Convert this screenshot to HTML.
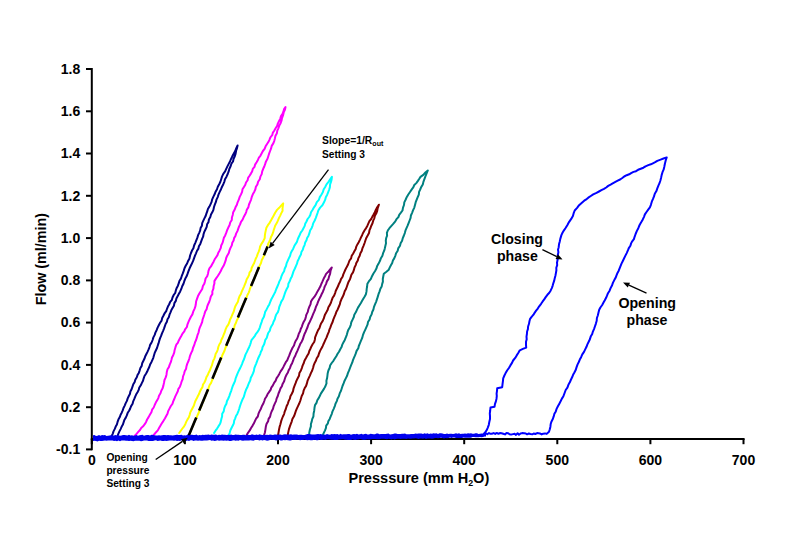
<!DOCTYPE html>
<html><head><meta charset="utf-8"><title>Flow vs Pressure</title>
<style>html,body{margin:0;padding:0;background:#fff}svg{display:block}</style></head>
<body>
<svg width="785" height="554" viewBox="0 0 785 554">
<rect width="785" height="554" fill="#fff"/>
<g stroke="#000" stroke-width="2" fill="none" stroke-linecap="butt">
<path d="M91.8,68 V450.3"/>
<path d="M86,69.0 H91.8"/>
<path d="M86,111.3 H91.8"/>
<path d="M86,153.5 H91.8"/>
<path d="M86,195.8 H91.8"/>
<path d="M86,238.1 H91.8"/>
<path d="M86,280.4 H91.8"/>
<path d="M86,322.6 H91.8"/>
<path d="M86,364.9 H91.8"/>
<path d="M86,407.2 H91.8"/>
<path d="M86,449.4 H91.8"/>
<path d="M90.8,439 H744.6"/>
<path d="M91.8,439 V444.2"/>
<path d="M184.9,439 V444.2"/>
<path d="M278.0,439 V444.2"/>
<path d="M371.1,439 V444.2"/>
<path d="M464.2,439 V444.2"/>
<path d="M557.3,439 V444.2"/>
<path d="M650.4,439 V444.2"/>
<path d="M743.5,439 V444.2"/>
</g>
<path d="M111.7,436.0 L112.8,433.6 L113.5,431.4 L114.8,428.9 L115.7,426.6 L116.9,424.4 L117.5,422.2 L118.4,419.6 L119.8,417.1 L120.6,414.7 L121.7,412.7 L122.7,410.4 L123.5,408.0 L124.7,405.6 L125.6,403.4 L126.9,400.9 L127.7,398.4 L128.7,396.3 L129.9,394.0 L130.4,391.5 L131.7,389.0 L132.5,386.7 L133.3,384.3 L134.7,382.0 L135.3,379.8 L136.8,377.3 L137.5,375.1 L138.8,372.9 L139.7,370.3 L140.4,368.0 L141.7,365.9 L142.2,363.3 L143.3,361.0 L144.4,358.8 L145.3,356.2 L146.4,354.0 L147.5,351.9 L148.6,349.4 L149.5,347.1 L150.1,344.9 L151.6,342.5 L152.6,340.0 L153.4,337.4 L154.7,334.9 L155.4,332.6 L156.6,330.2 L157.6,327.6 L158.8,325.2 L160.1,322.8 L161.6,320.6 L162.2,318.0 L163.4,315.8 L164.4,313.7 L166.2,311.2 L167.0,308.8 L167.9,306.6 L169.1,304.5 L170.2,301.9 L171.9,299.8 L172.5,297.5 L173.6,295.2 L175.2,293.0 L175.9,290.3 L176.7,287.9 L177.9,285.7 L178.8,283.2 L179.4,281.0 L180.9,278.6 L181.7,276.2 L182.8,273.4 L183.7,270.9 L184.5,268.2 L185.7,265.8 L187.1,263.5 L188.1,260.9 L189.5,258.4 L190.1,255.5 L191.0,253.0 L192.0,250.6 L193.4,248.2 L194.1,245.5 L195.3,242.8 L196.2,240.6 L197.3,237.9 L198.1,235.2 L199.2,232.8 L200.1,230.7 L200.6,228.1 L201.9,225.8 L202.2,223.1 L203.1,221.1 L204.4,218.4 L205.5,216.3 L206.4,213.7 L207.3,211.2 L207.9,209.1 L209.4,206.6 L210.6,204.1 L211.6,201.9 L212.2,199.3 L213.3,196.9 L214.6,194.3 L215.6,191.7 L217.0,189.3 L217.8,186.8 L219.2,184.2 L220.4,181.7 L221.2,179.2 L222.0,176.6 L223.3,173.8 L225.1,171.4 L226.1,169.1 L227.4,166.4 L228.7,163.9 L230.1,161.2 L231.2,158.7 L232.3,156.3 L233.8,153.5 L235.2,151.0 L236.3,148.2 L237.6,145.5 L237.0,148.1 L236.1,150.8 L235.6,153.6 L234.8,156.3 L233.6,158.8 L233.0,161.5 L231.4,163.7 L230.6,166.3 L229.4,168.8 L228.6,171.7 L227.7,174.0 L226.5,176.7 L225.0,179.3 L224.4,181.6 L223.3,184.2 L221.9,187.0 L221.0,189.2 L219.7,191.9 L218.6,194.3 L217.7,197.1 L216.5,199.6 L215.9,201.9 L214.8,204.7 L214.0,207.0 L213.4,209.9 L212.4,212.1 L211.0,214.5 L210.3,217.1 L208.9,219.5 L208.5,222.1 L207.1,224.3 L206.7,226.9 L205.6,229.2 L204.3,231.9 L203.6,234.0 L203.1,236.7 L202.1,238.9 L201.2,241.3 L200.3,243.9 L198.9,246.3 L198.4,248.6 L196.9,251.0 L196.0,253.3 L195.0,255.6 L194.1,258.1 L193.1,260.9 L192.0,263.3 L190.8,265.8 L189.6,268.3 L188.5,271.1 L187.7,273.4 L186.6,276.3 L185.2,278.8 L184.3,281.2 L183.5,283.7 L182.2,286.3 L181.4,288.7 L180.2,291.4 L178.9,293.8 L177.6,296.2 L176.4,298.5 L175.8,300.9 L174.4,303.1 L173.9,305.8 L172.7,307.8 L171.4,310.1 L170.5,312.4 L169.5,314.7 L168.8,317.3 L167.5,319.3 L166.9,321.7 L165.6,324.0 L164.7,326.6 L163.9,328.8 L163.0,331.1 L161.9,333.6 L161.1,335.9 L160.0,338.4 L159.2,340.9 L158.5,343.4 L157.7,345.8 L157.0,348.0 L155.7,350.7 L154.7,352.9 L154.1,355.0 L153.3,357.8 L152.3,360.1 L151.4,362.2 L150.1,364.6 L149.3,367.0 L148.2,369.2 L147.2,371.6 L146.0,373.7 L144.5,376.0 L143.7,378.3 L143.0,380.8 L141.8,383.1 L140.8,385.3 L139.2,387.8 L138.7,389.9 L137.5,392.3 L136.1,394.6 L135.2,396.7 L134.2,399.2 L133.1,401.6 L132.6,403.8 L131.1,406.1 L130.2,408.5 L129.1,410.7 L127.7,412.8 L126.8,415.4 L125.8,417.6 L124.5,419.7 L123.6,422.3 L122.9,424.6 L121.6,426.8 L120.6,429.1 L119.3,431.6 L118.3,433.9 L117.5,436.0" fill="none" stroke="#000080" stroke-width="2" stroke-linejoin="round" stroke-linecap="round"/>
<path d="M134.6,436.0 L136.6,433.8 L138.0,432.2 L140.0,430.0 L141.2,427.9 L143.4,426.0 L144.9,423.9 L146.1,421.9 L147.1,419.5 L148.6,417.1 L150.0,414.5 L151.4,412.2 L152.1,409.7 L153.7,407.5 L154.7,405.0 L155.8,402.6 L157.3,400.1 L158.3,398.1 L159.0,395.7 L160.5,393.3 L161.3,390.7 L162.5,388.6 L163.4,385.6 L164.0,382.8 L164.5,380.0 L165.7,377.4 L166.5,374.7 L166.8,372.0 L167.5,369.2 L168.9,367.1 L169.7,364.6 L170.7,362.4 L171.4,359.9 L172.0,357.5 L173.2,355.2 L174.2,352.6 L174.6,350.2 L175.4,347.4 L176.3,344.7 L177.8,342.8 L178.8,340.4 L180.1,338.1 L181.4,335.8 L182.5,333.6 L184.3,331.4 L185.1,329.4 L186.9,327.0 L187.5,324.3 L188.5,321.8 L189.7,319.2 L190.9,316.8 L192.4,314.4 L193.2,311.7 L194.4,309.1 L195.4,306.4 L195.8,304.3 L196.1,301.5 L196.9,299.2 L197.9,296.3 L199.2,293.8 L200.6,291.5 L202.2,288.9 L202.9,286.0 L204.3,283.8 L205.0,281.2 L205.6,278.5 L207.2,276.2 L208.0,273.7 L208.5,270.8 L209.4,268.4 L211.0,266.4 L212.3,264.0 L213.6,261.7 L214.7,259.3 L216.1,257.2 L217.5,255.1 L218.3,252.7 L219.5,250.7 L220.8,247.9 L221.2,245.5 L222.5,242.9 L223.2,240.4 L223.9,237.7 L225.2,235.4 L226.2,232.9 L227.2,230.0 L228.2,227.8 L229.6,225.0 L230.2,222.5 L231.8,220.0 L231.9,217.5 L232.8,214.7 L233.2,212.2 L234.6,209.8 L235.5,207.3 L236.9,204.7 L237.6,202.3 L238.8,199.7 L239.7,196.9 L241.0,194.4 L242.1,191.9 L242.5,189.3 L243.8,187.2 L245.3,184.7 L246.0,182.5 L247.6,180.2 L248.1,177.9 L249.4,176.0 L250.9,173.6 L252.1,171.4 L252.8,168.9 L254.5,166.9 L255.1,164.6 L256.6,162.2 L257.9,159.9 L258.9,157.7 L260.4,155.8 L261.6,153.5 L262.9,151.0 L264.6,148.9 L265.6,146.3 L266.9,144.2 L268.5,141.8 L269.4,139.8 L270.4,137.3 L272.2,135.2 L272.9,132.6 L274.2,130.7 L275.6,128.3 L277.2,125.8 L277.8,123.6 L279.1,121.0 L280.3,118.6 L281.0,116.1 L282.4,114.1 L283.4,111.7 L284.1,109.1 L285.5,107.0 L285.0,109.6 L283.7,112.4 L283.0,115.4 L282.0,118.1 L281.5,120.7 L280.6,123.2 L279.3,125.6 L278.4,128.3 L277.3,130.7 L276.9,133.2 L275.5,135.7 L274.9,138.4 L274.2,141.1 L273.3,143.4 L271.7,145.9 L271.0,148.7 L270.1,151.0 L269.1,153.7 L268.3,156.3 L267.5,158.8 L266.0,161.4 L265.2,163.9 L264.3,166.5 L263.2,168.8 L262.2,171.4 L261.7,174.1 L260.4,176.6 L259.8,179.2 L258.1,181.8 L257.4,184.5 L255.9,186.8 L255.3,189.5 L254.3,191.7 L252.8,194.3 L251.7,197.2 L251.0,199.8 L249.9,202.3 L249.0,204.5 L248.3,207.4 L246.8,209.8 L246.2,212.1 L245.1,214.6 L243.7,217.1 L242.6,219.7 L241.0,221.8 L240.1,224.4 L239.0,226.6 L238.1,229.1 L237.4,231.1 L236.1,233.6 L235.4,236.0 L234.1,238.1 L233.6,240.5 L232.3,242.8 L231.8,245.4 L230.5,247.9 L229.4,250.7 L228.8,253.0 L227.2,255.7 L226.2,258.0 L225.6,260.7 L224.6,263.3 L223.6,265.8 L222.1,268.2 L220.8,271.0 L219.5,273.3 L217.8,276.0 L216.1,278.4 L214.4,281.1 L214.4,283.5 L213.6,286.3 L213.4,288.7 L212.3,291.5 L212.4,293.9 L210.8,296.6 L210.1,299.2 L209.3,301.7 L208.1,304.2 L207.2,306.6 L206.6,309.3 L205.2,311.6 L204.4,314.3 L203.6,316.7 L202.6,319.5 L202.2,321.8 L201.1,324.7 L199.9,327.3 L199.1,329.8 L198.6,332.3 L197.6,334.8 L196.9,337.4 L196.1,340.0 L195.0,342.4 L194.2,345.2 L193.0,348.0 L192.4,350.5 L191.1,353.1 L190.1,355.6 L189.4,358.2 L188.5,361.0 L187.3,363.6 L186.5,366.2 L186.1,368.7 L184.7,371.2 L184.0,374.0 L183.0,376.5 L182.7,379.0 L181.7,381.3 L180.9,384.0 L179.9,386.7 L178.3,389.1 L177.8,391.3 L176.4,394.1 L175.2,396.6 L174.3,399.0 L173.2,401.4 L172.5,403.7 L170.7,406.3 L169.5,408.6 L168.2,411.1 L167.5,413.8 L166.2,416.1 L164.9,418.5 L163.3,421.1 L161.7,423.5 L160.4,425.7 L159.2,427.8 L157.8,430.4 L155.1,433.3 L152.8,436.0" fill="none" stroke="#ff00ff" stroke-width="2" stroke-linejoin="round" stroke-linecap="round"/>
<path d="M179.2,433.0 L180.6,431.0 L182.4,428.5 L184.1,426.3 L185.3,424.2 L186.2,421.9 L187.4,419.6 L188.9,417.2 L189.7,414.8 L190.3,412.4 L191.4,410.3 L192.6,408.0 L193.9,405.5 L194.5,403.5 L195.4,400.9 L196.7,398.6 L197.8,396.3 L199.0,394.1 L199.8,391.8 L201.1,389.2 L202.5,386.9 L203.0,384.5 L204.4,382.5 L205.6,379.9 L206.3,377.4 L207.6,375.3 L208.5,373.0 L209.7,370.8 L210.7,368.1 L211.8,365.7 L212.4,363.5 L213.1,361.0 L214.3,358.6 L215.0,356.7 L215.6,354.0 L216.9,351.8 L217.8,349.5 L218.3,347.0 L219.3,344.5 L220.6,342.5 L221.4,339.8 L222.6,337.5 L223.6,334.8 L224.8,332.0 L225.6,329.4 L226.7,326.9 L228.3,324.6 L229.4,322.0 L230.1,319.4 L231.4,317.0 L232.5,314.2 L233.6,311.9 L234.3,309.4 L235.2,306.5 L236.4,304.2 L237.9,301.7 L238.5,299.2 L239.5,296.3 L240.9,294.0 L241.8,291.4 L243.0,288.8 L244.0,286.6 L245.0,284.2 L245.9,282.0 L246.6,279.5 L247.9,277.2 L249.1,274.9 L249.5,272.6 L251.2,270.4 L251.6,268.0 L252.6,266.0 L253.9,263.6 L254.9,261.0 L255.7,258.8 L256.8,256.6 L257.7,253.9 L258.6,251.9 L259.6,249.2 L260.0,246.8 L261.3,244.1 L263.3,241.1 L264.7,238.1 L264.9,235.3 L265.2,233.1 L265.8,230.4 L266.4,227.8 L267.9,225.2 L269.8,222.6 L271.1,220.2 L272.6,217.6 L274.1,214.8 L275.3,212.5 L277.0,209.9 L279.2,207.8 L281.1,205.7 L283.2,203.4 L282.9,205.7 L282.5,208.5 L282.6,210.8 L281.2,213.4 L280.2,215.6 L278.9,218.1 L278.0,220.4 L276.9,222.8 L275.3,225.4 L274.6,227.5 L273.8,229.8 L273.1,232.4 L272.2,234.8 L271.0,237.0 L270.2,239.6 L269.1,242.0 L268.1,244.0 L267.4,246.7 L266.6,248.8 L265.9,251.0 L264.7,253.5 L263.9,255.9 L262.9,258.0 L261.7,260.2 L261.1,262.8 L260.1,264.9 L258.9,267.4 L258.0,269.5 L257.0,272.1 L255.9,274.1 L254.9,276.7 L254.4,278.7 L252.9,281.1 L252.1,283.5 L251.0,285.8 L250.1,288.3 L249.5,290.3 L248.7,292.6 L247.3,295.3 L246.6,297.5 L245.4,299.6 L244.6,301.9 L243.3,304.3 L242.2,306.6 L241.8,309.0 L240.6,311.3 L239.7,313.4 L238.8,315.9 L237.9,318.4 L236.7,320.6 L236.0,322.8 L234.7,325.2 L234.2,327.6 L233.1,329.9 L232.1,332.1 L231.0,334.3 L230.1,336.5 L229.0,339.1 L228.3,341.4 L227.0,343.6 L226.2,346.0 L225.2,348.4 L224.6,350.5 L223.4,353.0 L222.3,355.2 L221.7,357.3 L220.5,359.7 L219.7,362.3 L218.5,364.3 L217.6,366.8 L216.7,369.1 L215.7,371.6 L214.7,373.7 L214.0,375.9 L212.9,378.3 L212.0,380.5 L211.1,382.9 L209.5,385.2 L208.8,387.4 L207.9,389.9 L207.1,392.2 L205.8,394.4 L205.2,397.0 L204.1,399.1 L203.3,401.4 L201.9,403.6 L201.4,406.2 L200.3,408.4 L199.3,410.6 L198.6,413.0 L197.4,415.5 L196.6,417.7 L195.3,420.0 L194.2,422.4 L193.4,424.8 L192.4,426.9 L191.4,429.2 L190.4,431.4 L189.8,433.8 L188.5,436.1 L187.7,438.5" fill="none" stroke="#ffff00" stroke-width="2" stroke-linejoin="round" stroke-linecap="round"/>
<path d="M214.1,433.0 L215.5,430.7 L217.1,428.6 L218.4,426.4 L220.1,423.8 L220.8,421.6 L221.4,418.8 L222.1,416.5 L222.2,413.7 L223.7,411.4 L224.2,408.6 L225.0,406.2 L226.4,403.7 L226.9,401.3 L228.3,398.5 L229.3,396.1 L230.1,393.6 L231.1,391.1 L232.0,388.3 L232.8,385.9 L233.9,383.5 L235.0,381.1 L235.6,378.5 L236.5,376.2 L237.4,373.8 L238.5,371.4 L239.7,369.0 L241.0,366.4 L242.0,364.1 L242.8,361.8 L244.0,359.3 L244.7,357.1 L245.5,354.6 L246.9,351.9 L247.9,349.7 L249.1,347.2 L250.1,344.8 L250.8,342.6 L251.5,340.1 L253.3,337.9 L254.9,335.8 L256.0,333.8 L257.7,331.6 L258.9,329.7 L259.9,327.3 L260.6,324.8 L261.6,322.1 L262.4,319.5 L263.8,317.1 L264.6,314.4 L265.2,311.8 L266.6,309.4 L268.0,306.6 L269.3,304.4 L270.4,301.5 L271.5,298.9 L272.7,296.8 L274.1,294.1 L275.3,291.7 L276.3,289.0 L277.4,286.5 L278.5,283.9 L279.4,281.4 L280.7,278.9 L281.5,276.1 L282.5,273.8 L284.1,271.2 L284.7,268.7 L286.0,266.0 L286.6,263.4 L287.7,260.9 L288.8,258.4 L290.1,255.7 L290.8,253.1 L291.7,251.2 L293.1,248.9 L294.2,246.3 L295.3,244.3 L296.8,242.2 L297.6,239.7 L298.5,237.5 L299.7,235.0 L300.7,232.7 L302.3,230.5 L303.6,228.1 L304.7,225.9 L305.2,223.8 L306.5,221.5 L307.6,219.0 L309.2,217.0 L310.4,214.7 L311.0,212.3 L312.5,210.0 L314.0,207.3 L315.7,204.9 L316.8,202.1 L318.9,199.8 L319.8,197.1 L321.5,194.5 L322.9,192.1 L323.6,189.5 L325.2,187.0 L326.5,184.4 L328.5,181.9 L330.2,179.4 L331.9,176.8 L331.6,179.5 L331.0,181.9 L330.1,184.3 L329.9,187.1 L329.2,189.5 L328.1,192.3 L327.2,194.7 L325.8,197.2 L325.2,199.7 L324.0,202.3 L322.4,205.2 L320.1,207.6 L318.3,210.5 L317.5,213.1 L316.7,215.3 L315.7,218.1 L314.7,220.5 L313.3,223.1 L312.6,225.6 L311.7,227.9 L310.1,230.5 L309.5,232.9 L308.5,235.7 L307.1,238.0 L306.5,240.3 L305.2,242.6 L304.6,245.1 L303.5,247.2 L302.8,249.8 L301.4,252.1 L300.9,254.6 L299.7,256.7 L298.8,258.9 L297.6,261.3 L297.0,263.7 L295.9,266.1 L294.9,268.5 L293.5,271.4 L292.8,273.6 L291.9,276.4 L290.6,278.8 L289.7,281.3 L288.4,283.7 L288.1,286.6 L286.7,289.0 L285.5,291.6 L284.6,294.2 L283.8,296.7 L283.0,299.0 L281.3,301.6 L280.4,304.1 L279.3,306.8 L278.8,309.3 L277.9,312.1 L276.2,314.5 L275.4,316.8 L274.8,319.2 L273.5,321.7 L272.8,324.0 L271.4,326.2 L270.3,328.7 L269.8,330.7 L268.2,333.0 L267.4,335.6 L266.8,337.8 L265.2,340.1 L264.7,342.4 L264.0,344.6 L262.5,347.2 L262.1,349.6 L260.8,351.9 L260.2,354.1 L259.0,356.5 L257.9,359.0 L257.0,361.3 L256.1,363.8 L255.1,366.2 L254.3,368.3 L253.9,370.8 L253.0,373.4 L252.0,375.5 L250.8,377.8 L250.2,380.5 L249.1,382.7 L248.0,385.3 L247.2,387.6 L246.0,389.8 L245.1,392.3 L244.5,394.5 L243.8,396.9 L242.6,399.2 L241.5,401.9 L240.7,404.0 L239.9,406.4 L239.2,408.7 L238.4,411.1 L237.4,413.7 L236.0,416.0 L235.2,418.3 L234.2,420.7 L233.8,423.3 L232.9,425.3 L231.5,428.0 L230.4,430.3 L229.7,432.8 L228.9,435.0" fill="none" stroke="#00ffff" stroke-width="2" stroke-linejoin="round" stroke-linecap="round"/>
<path d="M246.7,435.0 L248.0,432.8 L249.9,430.2 L250.9,428.2 L252.6,425.6 L253.8,423.6 L254.9,421.1 L256.1,418.6 L257.8,416.5 L258.5,413.7 L259.5,411.4 L260.9,408.7 L261.8,406.3 L263.2,403.8 L264.3,401.0 L265.0,398.7 L266.5,396.5 L267.5,394.3 L269.0,392.1 L270.7,389.7 L271.3,387.6 L272.9,385.4 L274.1,382.9 L275.7,380.7 L276.5,378.4 L278.1,376.0 L279.3,373.9 L280.6,371.4 L282.0,369.4 L283.4,366.9 L284.5,364.7 L285.8,362.2 L287.2,360.3 L288.2,357.8 L289.3,355.4 L290.1,353.2 L291.3,350.4 L292.4,348.0 L294.0,345.5 L294.6,343.4 L295.8,340.7 L297.2,338.5 L298.1,336.2 L298.7,333.9 L300.1,331.2 L300.7,329.0 L301.9,326.6 L302.6,324.3 L303.6,322.0 L305.1,319.5 L305.8,317.1 L306.4,314.6 L307.8,311.9 L308.3,309.5 L309.3,306.8 L310.5,304.4 L311.0,301.6 L312.5,299.1 L314.5,296.7 L316.0,294.2 L317.5,291.4 L318.8,289.2 L320.4,286.3 L321.3,284.0 L322.5,281.4 L323.6,278.8 L325.1,276.0 L326.1,273.9 L328.3,271.8 L329.9,269.6 L331.8,267.5 L330.6,270.6 L330.1,273.8 L329.1,276.3 L328.5,278.9 L326.9,281.4 L326.0,284.1 L324.8,286.4 L324.0,288.8 L322.9,291.7 L321.7,294.0 L320.6,296.6 L319.3,299.0 L318.1,301.6 L317.2,304.2 L316.0,306.6 L315.1,309.5 L314.1,311.9 L313.0,314.3 L312.0,317.0 L310.8,319.6 L309.7,322.0 L308.4,324.5 L307.6,327.0 L306.7,329.2 L305.5,332.0 L304.4,334.3 L303.6,336.6 L302.9,339.0 L301.8,341.4 L300.2,344.1 L299.4,346.1 L298.3,348.7 L297.4,350.9 L296.0,353.7 L295.3,355.8 L293.9,358.2 L293.1,360.7 L292.1,363.2 L290.8,365.6 L290.0,367.9 L288.7,370.2 L287.9,372.5 L286.5,374.8 L285.4,377.1 L284.7,379.2 L284.0,381.6 L282.6,383.9 L281.9,386.2 L280.5,388.4 L279.6,391.0 L278.5,393.5 L277.8,396.0 L276.6,398.7 L276.0,401.1 L274.8,403.6 L273.7,406.1 L273.0,408.8 L271.6,411.5 L270.7,414.0 L270.1,416.6 L268.6,418.9 L268.1,421.3 L266.5,424.1 L265.8,426.8 L265.4,429.6 L264.9,432.5 L264.0,435.5" fill="none" stroke="#800080" stroke-width="2" stroke-linejoin="round" stroke-linecap="round"/>
<path d="M278.0,435.5 L278.5,432.7 L279.0,429.7 L279.6,426.9 L280.4,424.2 L281.1,421.4 L281.9,419.0 L282.9,416.5 L284.1,414.1 L284.8,411.3 L285.8,409.0 L286.6,406.3 L287.9,403.6 L288.5,401.4 L289.9,398.6 L290.4,396.2 L291.8,393.7 L293.0,391.2 L293.6,388.3 L294.5,385.9 L295.6,383.2 L296.4,380.9 L297.7,378.2 L299.0,375.8 L299.4,373.1 L300.9,370.5 L301.9,367.8 L302.6,365.6 L303.8,363.0 L304.6,360.4 L306.0,358.0 L307.2,355.8 L308.6,353.5 L309.3,351.0 L310.3,349.0 L311.4,346.4 L312.6,344.3 L314.2,342.0 L314.9,339.4 L315.1,337.3 L316.1,334.9 L317.1,332.4 L318.1,330.1 L319.5,328.0 L320.2,325.6 L321.2,323.2 L322.6,321.1 L323.7,318.7 L324.4,316.4 L325.1,314.4 L326.6,311.8 L327.7,309.7 L328.4,307.3 L329.9,304.9 L331.0,302.5 L331.7,300.3 L332.6,297.8 L334.1,295.6 L335.1,293.1 L335.8,290.8 L336.8,288.8 L338.0,286.3 L338.9,283.9 L340.2,281.5 L341.0,279.1 L342.6,276.8 L343.3,274.4 L344.3,272.1 L345.2,270.0 L346.5,267.4 L347.8,265.1 L348.6,263.0 L349.5,260.5 L351.1,258.4 L351.7,255.8 L353.2,253.5 L354.5,251.1 L355.7,248.9 L356.3,246.6 L357.4,244.4 L358.7,242.2 L360.0,239.6 L361.0,237.4 L362.1,235.2 L363.2,232.7 L364.6,230.3 L366.1,228.1 L367.3,225.9 L368.3,223.6 L369.4,221.2 L371.2,219.0 L372.4,216.6 L373.6,214.5 L374.8,212.2 L375.8,209.9 L377.2,207.2 L378.9,204.7 L377.7,208.1 L377.1,211.2 L376.3,213.3 L374.9,215.7 L374.3,218.3 L373.2,220.7 L372.5,223.2 L371.3,225.7 L370.5,228.0 L369.5,230.2 L369.0,233.0 L367.8,235.3 L366.3,237.9 L365.4,240.5 L364.6,243.0 L363.5,245.8 L362.4,248.4 L361.7,250.9 L360.4,253.3 L359.7,255.8 L358.3,258.4 L357.8,260.5 L356.3,263.1 L355.7,265.1 L354.5,267.5 L353.9,269.9 L353.0,272.4 L351.4,274.8 L350.7,277.1 L350.0,279.3 L348.5,281.9 L347.7,284.2 L346.9,286.5 L346.0,289.0 L344.7,291.3 L343.9,294.0 L342.7,296.8 L341.4,299.3 L340.4,301.8 L339.9,304.1 L338.7,307.0 L337.7,309.4 L336.4,311.7 L335.5,314.4 L334.4,316.9 L333.3,319.6 L332.6,322.0 L331.3,324.7 L330.4,327.4 L329.4,329.7 L328.7,332.1 L327.5,334.8 L326.6,337.4 L325.5,339.6 L324.4,342.1 L323.3,344.5 L322.5,346.5 L321.1,348.9 L320.0,351.1 L319.0,353.5 L318.3,355.9 L316.8,358.2 L316.0,360.5 L314.8,362.7 L313.6,365.7 L313.1,367.8 L312.1,370.8 L311.0,372.9 L309.9,375.6 L308.7,378.2 L307.5,380.9 L306.9,383.4 L306.1,385.9 L304.6,388.3 L303.6,390.7 L303.0,393.6 L301.7,395.9 L300.9,398.7 L300.2,401.0 L299.1,403.8 L298.0,406.1 L296.7,408.9 L295.8,411.2 L294.9,413.8 L294.0,416.3 L292.4,419.0 L291.7,421.6 L290.7,424.2 L289.8,426.6 L288.9,429.4 L288.2,432.6 L287.7,435.5" fill="none" stroke="#800000" stroke-width="2" stroke-linejoin="round" stroke-linecap="round"/>
<path d="M309.1,435.5 L309.3,432.6 L309.9,429.5 L310.9,426.4 L310.9,424.0 L311.7,421.6 L312.2,419.1 L313.4,416.5 L313.6,413.5 L314.2,410.7 L314.5,407.8 L315.0,405.1 L316.5,402.9 L317.3,400.3 L318.7,398.1 L319.9,395.7 L321.0,393.4 L322.5,391.1 L324.1,388.6 L325.5,386.0 L326.5,383.4 L326.4,380.8 L327.1,378.1 L327.4,375.8 L327.7,373.2 L328.4,370.5 L329.7,367.8 L330.1,365.6 L331.7,363.0 L333.4,360.8 L334.8,358.5 L336.3,356.2 L337.6,353.7 L339.0,351.7 L340.4,349.0 L341.7,346.8 L342.3,344.6 L343.5,342.3 L344.8,339.9 L345.9,337.2 L346.8,334.8 L347.5,332.2 L348.4,329.7 L349.9,327.2 L350.8,324.8 L351.3,322.3 L352.7,319.4 L353.8,317.0 L354.3,314.7 L355.8,312.3 L356.8,310.1 L358.0,307.6 L359.5,305.2 L360.9,303.0 L362.0,301.0 L363.3,298.8 L364.7,296.5 L365.9,294.3 L366.5,291.4 L366.7,288.9 L367.1,286.5 L367.4,283.7 L368.8,281.4 L370.9,278.9 L372.0,276.2 L373.3,273.7 L375.1,271.0 L376.4,268.6 L377.2,265.9 L378.6,263.6 L380.0,260.8 L380.9,258.2 L382.4,255.7 L383.1,253.2 L384.2,250.7 L384.8,248.4 L385.4,245.7 L386.0,243.3 L385.8,240.5 L386.2,238.0 L387.1,235.6 L386.9,232.8 L387.8,230.5 L389.4,228.2 L391.2,226.1 L393.2,223.9 L395.3,221.3 L396.5,219.2 L398.4,217.1 L399.2,214.8 L400.9,212.7 L402.5,210.5 L403.0,207.6 L404.0,205.0 L404.3,202.4 L405.7,199.5 L406.7,197.2 L408.3,194.5 L410.0,192.0 L411.6,189.6 L413.4,187.2 L414.3,185.0 L416.3,183.1 L417.9,180.9 L419.3,178.8 L420.5,176.9 L423.3,174.9 L425.4,172.5 L427.8,170.5 L426.6,173.5 L425.4,176.4 L424.4,179.2 L423.4,181.9 L422.8,184.5 L421.3,186.9 L420.2,189.5 L419.1,191.9 L418.8,194.6 L417.7,197.2 L416.7,199.6 L415.7,202.2 L415.0,204.9 L414.3,207.6 L413.0,210.4 L412.1,212.8 L410.9,215.5 L410.6,217.9 L409.6,220.5 L408.7,222.8 L407.6,225.7 L406.6,227.9 L405.5,230.4 L404.8,233.1 L403.9,235.5 L402.8,238.1 L402.1,240.7 L400.6,243.2 L400.0,245.7 L398.2,248.4 L397.7,250.7 L396.1,253.2 L395.2,256.1 L394.2,258.4 L392.9,260.5 L392.2,263.0 L390.9,265.3 L389.8,267.4 L388.8,269.7 L386.4,271.7 L383.8,273.7 L383.3,276.2 L382.8,279.0 L382.9,281.6 L382.2,283.9 L381.7,286.4 L380.4,288.8 L379.5,291.6 L378.5,294.2 L377.8,296.6 L377.0,299.2 L376.1,301.8 L375.0,304.4 L374.0,306.9 L373.4,309.5 L372.2,312.0 L371.6,314.4 L370.2,317.0 L369.6,319.4 L368.0,322.1 L367.5,324.7 L366.3,327.4 L365.2,329.8 L364.1,332.1 L363.1,334.6 L362.2,337.9 L360.8,341.2 L359.9,343.3 L358.8,346.0 L358.3,348.2 L356.6,350.9 L355.8,353.4 L354.9,355.7 L353.8,358.2 L352.9,360.4 L352.2,362.7 L351.0,365.3 L350.0,368.0 L349.1,370.4 L347.9,373.1 L347.1,375.8 L345.9,378.1 L344.6,380.7 L343.7,383.2 L342.5,386.0 L341.8,388.3 L341.0,390.8 L339.7,393.4 L338.9,396.2 L337.5,398.7 L336.8,401.1 L335.5,403.7 L334.8,406.1 L333.7,408.8 L332.5,411.4 L331.8,413.8 L330.8,416.2 L329.7,418.9 L328.3,421.3 L327.9,423.4 L326.2,425.7 L325.9,428.1 L324.9,430.6 L323.8,432.9 L322.6,435.5" fill="none" stroke="#008080" stroke-width="2" stroke-linejoin="round" stroke-linecap="round"/>
<path d="M267.6,246.5 L263.9,255.3 M259.0,267.1 L251.1,286.0 M246.2,297.8 L237.9,317.6 M233.5,328.2 L226.2,345.8 M221.2,357.6 L212.4,378.7 M208.1,389.2 L199.2,410.4 M196.3,417.4 L187.5,438.5 " stroke="#000" stroke-width="2.6" fill="none"/>
<path d="M93.0,435.2 L94.5,435.1 L96.0,435.9 L97.5,435.8 L99.0,435.0 L100.5,435.7 L102.0,435.0 L103.5,435.2 L105.0,435.0 L106.5,435.9 L108.0,435.8 L109.5,435.4 L111.0,435.3 L112.5,435.6 L114.0,435.6 L115.5,435.0 L117.0,435.4 L118.5,435.2 L120.0,435.8 L121.5,435.6 L123.0,435.0 L124.5,434.9 L126.0,435.3 L127.5,435.4 L129.0,434.8 L130.5,435.5 L132.0,435.3 L133.5,435.8 L135.0,435.5 L136.5,435.1 L138.0,435.7 L139.5,435.2 L141.0,434.9 L142.5,434.8 L144.0,435.7 L145.5,435.3 L147.0,435.0 L148.5,434.9 L150.0,435.5 L151.5,434.8 L153.0,435.0 L154.5,435.2 L156.0,435.6 L157.5,435.4 L159.0,435.2 L160.5,435.6 L162.0,435.3 L163.5,435.0 L165.0,435.1 L166.5,435.3 L168.0,435.0 L169.5,435.2 L171.0,435.2 L172.5,435.5 L174.0,435.3 L175.5,435.1 L177.0,434.8 L178.5,435.1 L180.0,435.1 L181.5,434.8 L183.0,435.4 L184.5,435.2 L186.0,435.4 L187.5,434.6 L189.0,435.4 L190.5,434.7 L192.0,434.8 L193.5,434.9 L195.0,435.0 L196.5,434.6 L198.0,435.5 L199.5,435.0 L201.0,435.3 L202.5,434.7 L204.0,434.9 L205.5,434.7 L207.0,434.8 L208.5,434.5 L210.0,435.0 L211.5,434.6 L213.0,434.7 L214.5,434.7 L216.0,434.5 L217.5,435.3 L219.0,434.8 L220.5,435.0 L222.0,434.5 L223.5,434.8 L225.0,434.7 L226.5,435.0 L228.0,434.7 L229.5,434.9 L231.0,434.6 L232.5,435.1 L234.0,435.0 L235.5,434.4 L237.0,434.7 L238.5,434.8 L240.0,435.1 L241.5,434.9 L243.0,434.8 L244.5,434.7 L246.0,435.2 L247.5,434.8 L249.0,435.1 L250.5,435.0 L252.0,434.3 L253.5,434.8 L255.0,435.0 L256.5,434.5 L258.0,435.0 L259.5,434.3 L261.0,434.8 L262.5,434.9 L264.0,434.7 L265.5,434.9 L267.0,434.8 L268.5,435.0 L270.0,434.4 L271.5,434.7 L273.0,435.1 L274.5,434.5 L276.0,434.4 L277.5,434.7 L279.0,434.6 L280.5,434.5 L282.0,434.9 L283.5,434.4 L285.0,434.2 L286.5,434.5 L288.0,434.6 L289.5,434.5 L291.0,434.3 L292.5,434.7 L294.0,434.4 L295.5,434.5 L297.0,434.4 L298.5,434.9 L300.0,434.8 L301.5,434.7 L303.0,435.0 L304.5,434.9 L306.0,434.5 L307.5,434.1 L309.0,434.1 L310.5,434.2 L312.0,434.5 L313.5,434.5 L315.0,434.6 L316.5,434.2 L318.0,434.1 L319.5,434.2 L321.0,434.0 L322.5,434.8 L324.0,434.6 L325.5,434.8 L327.0,434.1 L328.5,434.6 L330.0,434.7 L331.5,434.1 L333.0,434.2 L334.5,434.0 L336.0,434.2 L337.5,434.0 L339.0,434.8 L340.5,433.8 L342.0,434.4 L343.5,434.3 L345.0,434.2 L346.5,434.2 L348.0,433.9 L349.5,433.9 L351.0,434.7 L352.5,434.2 L354.0,434.1 L355.5,434.2 L357.0,433.8 L358.5,434.5 L360.0,434.2 L361.5,433.8 L363.0,434.5 L364.5,433.9 L366.0,433.7 L367.5,434.5 L369.0,434.5 L370.5,433.7 L372.0,434.0 L373.5,434.3 L375.0,434.3 L376.5,433.6 L378.0,433.6 L379.5,434.3 L381.0,434.0 L382.5,434.0 L384.0,434.1 L385.5,434.1 L387.0,433.8 L388.5,433.6 L390.0,434.4 L391.5,434.3 L393.0,433.9 L394.5,433.5 L396.0,433.5 L397.5,433.9 L399.0,433.9 L400.5,433.9 L402.0,433.7 L403.5,433.8 L405.0,433.5 L406.5,434.2 L408.0,434.2 L409.5,434.2 L411.0,434.1 L412.5,434.0 L414.0,434.0 L415.5,433.6 L417.0,433.7 L418.5,433.6 L420.0,433.4 L421.5,433.5 L423.0,434.0 L424.5,433.3 L426.0,433.8 L427.5,433.3 L429.0,433.9 L430.5,433.6 L432.0,433.7 L433.5,433.2 L435.0,433.6 L436.5,433.3 L438.0,433.9 L439.5,433.3 L441.0,433.3 L442.5,433.4 L444.0,434.1 L445.5,433.9 L447.0,433.6 L448.5,434.0 L450.0,433.8 L451.5,433.7 L453.0,433.9 L454.5,433.8 L456.0,433.3 L457.5,433.8 L459.0,433.2 L460.5,434.0 L462.0,433.8 L463.5,433.8 L465.0,433.5 L466.5,433.8 L468.0,433.3 L469.5,433.6 L471.0,433.2 L472.5,433.8 L474.0,433.8 L475.5,433.2 L477.0,433.2 L478.5,433.9 L480.0,433.7 L481.5,433.6 L483.0,433.4 L484.5,433.5 L486.0,432.7 L486.0,436.5 L484.5,436.4 L483.0,437.1 L481.5,437.2 L480.0,437.0 L478.5,437.3 L477.0,437.2 L475.5,437.2 L474.0,437.0 L472.5,437.1 L471.0,437.8 L469.5,437.8 L468.0,437.8 L466.5,437.8 L465.0,437.8 L463.5,437.6 L462.0,437.9 L460.5,438.0 L459.0,437.9 L457.5,437.9 L456.0,438.1 L454.5,437.6 L453.0,437.4 L451.5,438.1 L450.0,437.6 L448.5,438.1 L447.0,438.2 L445.5,437.9 L444.0,438.5 L442.5,437.9 L441.0,437.8 L439.5,437.9 L438.0,438.3 L436.5,437.9 L435.0,438.1 L433.5,438.6 L432.0,438.7 L430.5,438.6 L429.0,438.6 L427.5,438.5 L426.0,438.9 L424.5,438.2 L423.0,438.7 L421.5,438.6 L420.0,438.6 L418.5,439.0 L417.0,438.6 L415.5,438.2 L414.0,438.4 L412.5,438.5 L411.0,438.8 L409.5,438.8 L408.0,438.4 L406.5,438.9 L405.0,438.7 L403.5,438.7 L402.0,438.7 L400.5,439.0 L399.0,438.7 L397.5,438.7 L396.0,439.1 L394.5,439.4 L393.0,438.8 L391.5,439.5 L390.0,439.0 L388.5,438.8 L387.0,439.3 L385.5,439.0 L384.0,438.8 L382.5,438.8 L381.0,438.8 L379.5,439.3 L378.0,439.3 L376.5,439.3 L375.0,439.1 L373.5,439.0 L372.0,439.1 L370.5,439.2 L369.0,439.5 L367.5,439.2 L366.0,439.5 L364.5,439.8 L363.0,439.7 L361.5,439.2 L360.0,439.0 L358.5,439.5 L357.0,439.4 L355.5,439.9 L354.0,439.7 L352.5,439.3 L351.0,439.9 L349.5,439.9 L348.0,439.9 L346.5,439.7 L345.0,439.8 L343.5,439.2 L342.0,439.3 L340.5,439.5 L339.0,439.5 L337.5,439.9 L336.0,440.0 L334.5,440.1 L333.0,439.8 L331.5,439.8 L330.0,439.5 L328.5,439.3 L327.0,439.3 L325.5,439.9 L324.0,439.6 L322.5,439.7 L321.0,440.1 L319.5,439.5 L318.0,440.2 L316.5,440.2 L315.0,439.7 L313.5,440.1 L312.0,440.2 L310.5,440.3 L309.0,440.0 L307.5,440.3 L306.0,440.1 L304.5,439.6 L303.0,439.9 L301.5,440.0 L300.0,440.3 L298.5,439.8 L297.0,439.8 L295.5,440.1 L294.0,440.1 L292.5,439.7 L291.0,440.5 L289.5,440.4 L288.0,440.2 L286.5,440.1 L285.0,440.2 L283.5,439.9 L282.0,440.5 L280.5,440.5 L279.0,439.8 L277.5,440.2 L276.0,440.6 L274.5,440.1 L273.0,440.0 L271.5,439.8 L270.0,440.1 L268.5,440.6 L267.0,440.8 L265.5,440.2 L264.0,439.9 L262.5,440.5 L261.0,439.9 L259.5,440.6 L258.0,440.0 L256.5,440.0 L255.0,440.0 L253.5,440.7 L252.0,440.6 L250.5,440.3 L249.0,440.6 L247.5,440.4 L246.0,440.4 L244.5,440.4 L243.0,440.8 L241.5,440.4 L240.0,440.0 L238.5,440.8 L237.0,440.5 L235.5,440.7 L234.0,440.3 L232.5,440.4 L231.0,440.9 L229.5,440.9 L228.0,440.4 L226.5,440.8 L225.0,440.4 L223.5,440.7 L222.0,440.5 L220.5,440.4 L219.0,440.8 L217.5,440.2 L216.0,440.7 L214.5,440.9 L213.0,440.4 L211.5,440.8 L210.0,440.1 L208.5,440.3 L207.0,440.4 L205.5,440.4 L204.0,440.6 L202.5,440.7 L201.0,440.8 L199.5,440.6 L198.0,440.8 L196.5,440.5 L195.0,440.6 L193.5,440.9 L192.0,440.2 L190.5,440.3 L189.0,440.9 L187.5,440.5 L186.0,441.0 L184.5,440.9 L183.0,440.6 L181.5,440.3 L180.0,440.9 L178.5,440.7 L177.0,441.1 L175.5,440.4 L174.0,440.7 L172.5,440.6 L171.0,440.5 L169.5,440.4 L168.0,440.8 L166.5,440.9 L165.0,440.7 L163.5,440.9 L162.0,440.9 L160.5,440.5 L159.0,440.8 L157.5,441.1 L156.0,440.3 L154.5,440.6 L153.0,440.9 L151.5,440.9 L150.0,441.1 L148.5,441.1 L147.0,440.5 L145.5,440.6 L144.0,440.5 L142.5,440.9 L141.0,441.2 L139.5,440.7 L138.0,440.7 L136.5,440.7 L135.0,440.7 L133.5,441.2 L132.0,441.0 L130.5,440.8 L129.0,441.0 L127.5,440.7 L126.0,440.7 L124.5,440.4 L123.0,440.6 L121.5,440.6 L120.0,441.2 L118.5,440.6 L117.0,441.2 L115.5,440.7 L114.0,440.9 L112.5,440.5 L111.0,440.6 L109.5,440.5 L108.0,440.5 L106.5,440.7 L105.0,440.4 L103.5,440.8 L102.0,440.9 L100.5,441.1 L99.0,440.7 L97.5,441.4 L96.0,441.1 L94.5,440.8 L93.0,441.1Z" fill="#0000ee" stroke="none"/>
<path d="M484.0,433.6 L485.8,433.2 L487.3,434.3 L489.0,433.0 L490.4,433.8 L491.8,433.8 L493.6,433.1 L495.2,433.9 L496.6,433.0 L498.6,433.8 L499.9,433.0 L501.5,433.2 L503.2,433.8 L505.0,434.4 L506.5,433.1 L508.2,433.3 L509.5,434.3 L511.1,434.6 L513.0,434.1 L514.6,433.7 L516.0,434.9 L517.6,433.3 L519.0,434.7 L520.6,433.5 L522.1,433.1 L524.3,433.2 L525.8,433.5 L527.1,434.3 L528.8,433.5 L530.4,434.0 L532.3,434.3 L533.7,433.5 L535.3,434.0 L537.1,433.1 L538.5,433.2 L539.9,433.4 L541.7,434.4 L543.2,433.7 L545.1,433.4 L546.7,433.9 L549.0,431.7 L549.8,429.3 L550.4,426.7 L550.7,424.0 L551.4,421.7 L552.9,418.8 L553.7,416.4 L554.4,413.8 L555.8,411.4 L556.6,408.9 L557.9,406.3 L559.2,403.9 L560.6,401.3 L561.9,398.6 L563.4,396.2 L564.6,393.0 L565.7,390.0 L567.4,387.6 L568.4,384.8 L569.7,382.6 L570.8,380.0 L572.1,377.3 L573.1,374.8 L574.4,372.5 L575.8,369.7 L576.5,367.4 L577.5,364.6 L578.8,362.0 L579.8,359.6 L581.1,357.2 L582.3,354.4 L584.0,351.9 L585.2,349.4 L586.5,346.8 L587.4,344.4 L588.7,341.8 L589.9,339.3 L590.7,336.6 L592.2,334.1 L592.9,331.6 L594.0,329.1 L594.9,326.5 L595.9,323.6 L596.7,320.8 L596.9,318.0 L597.8,315.5 L598.5,312.6 L599.2,309.8 L600.4,307.5 L602.2,305.0 L603.5,302.6 L604.8,300.3 L606.1,297.8 L607.0,295.7 L608.0,293.2 L609.6,290.7 L610.6,288.1 L612.1,285.2 L613.0,282.6 L614.3,280.1 L615.6,277.8 L616.5,275.3 L617.5,272.9 L618.7,270.7 L619.7,268.1 L620.6,265.9 L621.5,263.6 L622.7,261.2 L624.0,258.5 L625.4,255.6 L626.7,253.1 L628.0,250.2 L628.8,248.1 L630.4,245.7 L631.1,243.4 L632.2,241.3 L633.9,239.1 L634.6,236.8 L635.6,234.0 L636.9,230.9 L638.3,228.2 L639.6,225.0 L641.3,222.1 L642.8,219.4 L644.0,216.8 L644.9,214.4 L646.5,212.0 L648.2,209.7 L649.9,207.4 L650.9,204.8 L651.8,201.7 L653.0,198.9 L654.0,196.4 L654.8,193.8 L656.4,191.1 L657.3,188.4 L658.4,185.6 L659.5,183.2 L660.4,180.5 L661.1,177.8 L661.7,174.9 L662.5,172.2 L663.6,169.7 L664.3,166.8 L664.9,163.7 L665.7,160.5 L666.7,157.4 L663.5,158.5 L660.6,159.6 L657.3,160.9 L655.2,162.2 L652.9,163.3 L650.8,164.3 L648.3,165.1 L645.5,166.3 L643.4,167.7 L640.8,168.7 L638.1,169.8 L636.0,171.2 L633.5,171.9 L631.1,173.1 L629.2,174.3 L626.7,175.2 L624.2,176.5 L622.3,178.0 L620.1,179.5 L617.7,180.7 L615.4,181.9 L612.7,183.4 L610.6,184.6 L608.2,185.9 L606.2,187.5 L604.0,188.9 L601.4,190.2 L599.0,191.5 L596.5,192.8 L593.2,194.4 L590.8,196.0 L588.3,197.7 L586.7,199.1 L584.2,200.7 L581.9,202.7 L579.1,205.2 L577.1,207.9 L574.7,210.5 L573.6,213.4 L572.9,215.9 L571.2,218.9 L569.0,222.1 L567.3,225.2 L565.4,228.3 L563.8,230.6 L562.5,232.8 L561.4,235.1 L560.3,238.9 L559.7,241.8 L559.0,244.3 L558.7,247.2 L558.0,249.7 L558.4,252.2 L557.8,255.0 L557.9,257.5 L557.6,259.8 L557.0,262.8 L557.2,265.1 L556.3,267.8 L556.4,270.3 L555.9,273.1 L555.4,275.7 L554.8,277.9 L554.2,280.7 L553.3,283.3 L552.7,285.6 L551.8,288.1 L550.6,290.7 L549.1,293.0 L547.4,294.8 L545.7,297.1 L544.2,299.4 L542.5,301.7 L541.1,303.8 L539.2,306.3 L537.8,308.6 L536.1,310.7 L534.6,312.8 L533.5,314.7 L531.6,316.8 L530.1,318.8 L529.4,321.5 L529.0,323.8 L528.1,326.5 L527.9,329.1 L527.1,331.5 L526.9,334.2 L526.5,336.7 L526.7,339.3 L526.0,341.8 L526.0,344.9 L526.2,347.6 L522.9,348.9 L519.8,350.3 L518.4,352.8 L516.7,355.4 L515.2,357.9 L513.1,360.5 L512.0,362.9 L510.4,365.4 L508.9,368.0 L507.1,370.5 L505.6,373.1 L504.4,375.5 L503.2,378.4 L502.9,381.3 L502.5,384.3 L502.2,387.2 L497.2,388.3 L497.0,390.8 L496.6,393.6 L496.8,396.0 L496.5,398.7 L495.9,401.4 L495.0,403.9 L494.5,406.7 L490.5,407.5 L490.2,410.5 L489.8,413.3 L490.0,416.1 L490.0,419.0 L489.3,422.0 L488.8,424.8 L487.7,427.8 L486.6,430.3 L484.7,433.1 L483.6,435.0" fill="none" stroke="#0000ff" stroke-width="2" stroke-linejoin="round" stroke-linecap="round"/>
<path d="M328.5,169.7 L272.6,243.3" stroke="#000" stroke-width="1.3" fill="none"/><path d="M268.7,248.5 L270.6,241.8 L274.7,244.9 Z" fill="#000"/>
<path d="M155.7,459.5 L182.4,441.4" stroke="#000" stroke-width="1.3" fill="none"/><path d="M187.8,437.8 L183.9,443.6 L181.0,439.3 Z" fill="#000"/>
<path d="M542.4,249.6 L556.8,256.6" stroke="#000" stroke-width="1.3" fill="none"/><path d="M562.6,259.4 L555.6,258.9 L557.9,254.2 Z" fill="#000"/>
<path d="M646.5,293.2 L628.9,285.1" stroke="#000" stroke-width="1.3" fill="none"/><path d="M623.0,282.4 L630.0,282.8 L627.8,287.5 Z" fill="#000"/>
<text transform="translate(80.2,73.8) scale(0.948,1)" font-size="14.8" text-anchor="end" font-family="Liberation Sans, Arial, sans-serif" font-weight="bold" fill="#000" >1.8</text>
<text transform="translate(80.2,116.1) scale(0.948,1)" font-size="14.8" text-anchor="end" font-family="Liberation Sans, Arial, sans-serif" font-weight="bold" fill="#000" >1.6</text>
<text transform="translate(80.2,158.3) scale(0.948,1)" font-size="14.8" text-anchor="end" font-family="Liberation Sans, Arial, sans-serif" font-weight="bold" fill="#000" >1.4</text>
<text transform="translate(80.2,200.6) scale(0.948,1)" font-size="14.8" text-anchor="end" font-family="Liberation Sans, Arial, sans-serif" font-weight="bold" fill="#000" >1.2</text>
<text transform="translate(80.2,242.9) scale(0.948,1)" font-size="14.8" text-anchor="end" font-family="Liberation Sans, Arial, sans-serif" font-weight="bold" fill="#000" >1.0</text>
<text transform="translate(80.2,285.2) scale(0.948,1)" font-size="14.8" text-anchor="end" font-family="Liberation Sans, Arial, sans-serif" font-weight="bold" fill="#000" >0.8</text>
<text transform="translate(80.2,327.4) scale(0.948,1)" font-size="14.8" text-anchor="end" font-family="Liberation Sans, Arial, sans-serif" font-weight="bold" fill="#000" >0.6</text>
<text transform="translate(80.2,369.7) scale(0.948,1)" font-size="14.8" text-anchor="end" font-family="Liberation Sans, Arial, sans-serif" font-weight="bold" fill="#000" >0.4</text>
<text transform="translate(80.2,412.0) scale(0.948,1)" font-size="14.8" text-anchor="end" font-family="Liberation Sans, Arial, sans-serif" font-weight="bold" fill="#000" >0.2</text>
<text transform="translate(80.2,454.2) scale(0.948,1)" font-size="14.8" text-anchor="end" font-family="Liberation Sans, Arial, sans-serif" font-weight="bold" fill="#000" >-0.1</text>
<text transform="translate(91.8,464.8) scale(0.948,1)" font-size="14.8" text-anchor="middle" font-family="Liberation Sans, Arial, sans-serif" font-weight="bold" fill="#000" >0</text>
<text transform="translate(184.9,464.8) scale(0.948,1)" font-size="14.8" text-anchor="middle" font-family="Liberation Sans, Arial, sans-serif" font-weight="bold" fill="#000" >100</text>
<text transform="translate(278.0,464.8) scale(0.948,1)" font-size="14.8" text-anchor="middle" font-family="Liberation Sans, Arial, sans-serif" font-weight="bold" fill="#000" >200</text>
<text transform="translate(371.1,464.8) scale(0.948,1)" font-size="14.8" text-anchor="middle" font-family="Liberation Sans, Arial, sans-serif" font-weight="bold" fill="#000" >300</text>
<text transform="translate(464.2,464.8) scale(0.948,1)" font-size="14.8" text-anchor="middle" font-family="Liberation Sans, Arial, sans-serif" font-weight="bold" fill="#000" >400</text>
<text transform="translate(557.3,464.8) scale(0.948,1)" font-size="14.8" text-anchor="middle" font-family="Liberation Sans, Arial, sans-serif" font-weight="bold" fill="#000" >500</text>
<text transform="translate(650.4,464.8) scale(0.948,1)" font-size="14.8" text-anchor="middle" font-family="Liberation Sans, Arial, sans-serif" font-weight="bold" fill="#000" >600</text>
<text transform="translate(743.5,464.8) scale(0.948,1)" font-size="14.8" text-anchor="middle" font-family="Liberation Sans, Arial, sans-serif" font-weight="bold" fill="#000" >700</text>
<text transform="translate(348.5,482.8) scale(0.978,1)" font-size="14.9" text-anchor="start" font-family="Liberation Sans, Arial, sans-serif" font-weight="bold" fill="#000" >Presssure (mm H<tspan font-size="9" dy="3">2</tspan><tspan dy="-3">O)</tspan></text>
<text transform="translate(45.5,305.2) rotate(-90) scale(0.967,1)" font-size="14.8" font-family="Liberation Sans, Arial, sans-serif" font-weight="bold" fill="#000">Flow (ml/min)</text>
<text transform="translate(322.0,143.9) scale(1.015,1)" font-size="10.2" text-anchor="start" font-family="Liberation Sans, Arial, sans-serif" font-weight="bold" fill="#000" >Slope=1/R<tspan font-size="7" dy="2">out</tspan></text>
<text transform="translate(322.0,158.2) scale(1.000,1)" font-size="10.2" text-anchor="start" font-family="Liberation Sans, Arial, sans-serif" font-weight="bold" fill="#000" >Setting 3</text>
<text transform="translate(106.4,461.2) scale(1.000,1)" font-size="10.2" text-anchor="start" font-family="Liberation Sans, Arial, sans-serif" font-weight="bold" fill="#000" >Opening</text>
<text transform="translate(106.4,474.2) scale(1.000,1)" font-size="10.2" text-anchor="start" font-family="Liberation Sans, Arial, sans-serif" font-weight="bold" fill="#000" >pressure</text>
<text transform="translate(106.4,486.9) scale(1.000,1)" font-size="10.2" text-anchor="start" font-family="Liberation Sans, Arial, sans-serif" font-weight="bold" fill="#000" >Setting 3</text>
<text transform="translate(517.0,243.5) scale(0.950,1)" font-size="14.9" text-anchor="middle" font-family="Liberation Sans, Arial, sans-serif" font-weight="bold" fill="#000" >Closing</text>
<text transform="translate(517.4,261.4) scale(0.950,1)" font-size="14.9" text-anchor="middle" font-family="Liberation Sans, Arial, sans-serif" font-weight="bold" fill="#000" >phase</text>
<text transform="translate(647.2,308.2) scale(0.955,1)" font-size="14.9" text-anchor="middle" font-family="Liberation Sans, Arial, sans-serif" font-weight="bold" fill="#000" >Opening</text>
<text transform="translate(647.0,325.0) scale(0.950,1)" font-size="14.9" text-anchor="middle" font-family="Liberation Sans, Arial, sans-serif" font-weight="bold" fill="#000" >phase</text>
</svg>
</body></html>
